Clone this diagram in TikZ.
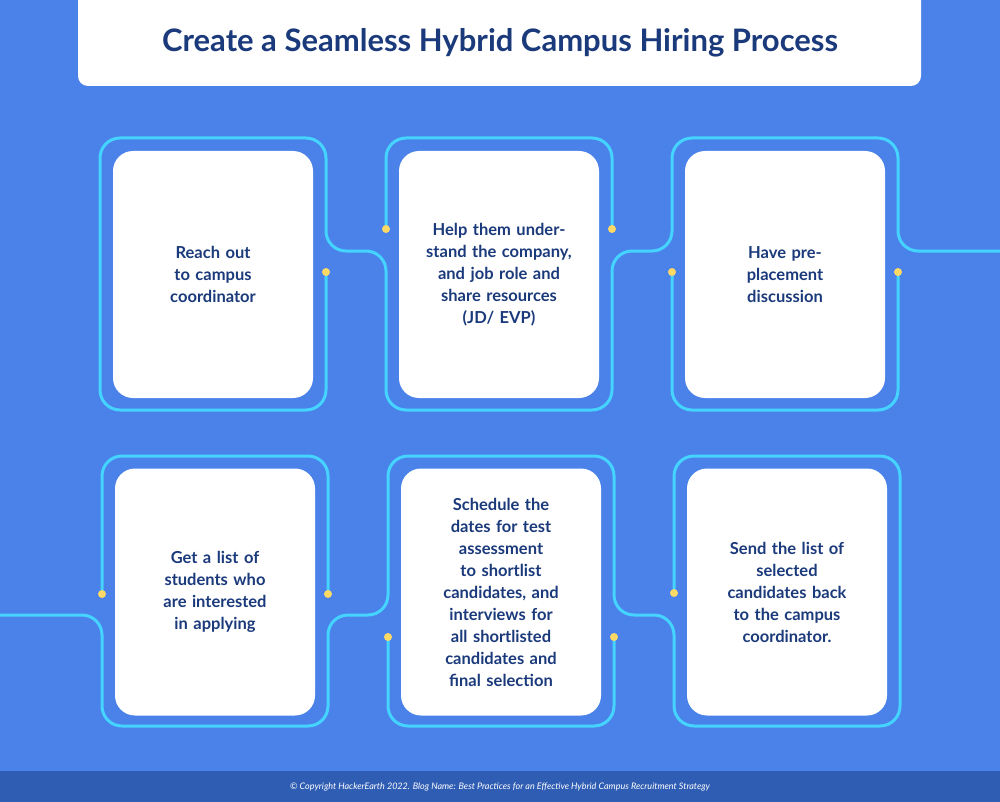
\documentclass[tikz,border=0pt]{standalone}
\usepackage{fontspec}
\setmainfont{Lato}
\usetikzlibrary{positioning}
\definecolor{bgblue}{HTML}{4A82EA}
\definecolor{footblue}{HTML}{2F5DB3}
\definecolor{navy}{HTML}{1B3A7B}
\definecolor{wire}{HTML}{45D3FF}
\definecolor{dotyellow}{HTML}{FFD966}
\tikzset{
  card/.style={fill=white,rounded corners=20pt,minimum width=200pt,minimum height=247pt,
    text width=150pt,align=center,text=navy,font=\fontsize{16.5}{22}\selectfont\bfseries},
  wireline/.style={draw=wire,line width=3pt,rounded corners=20pt},
  knob/.style={fill=dotyellow,circle,inner sep=0pt,minimum size=8pt},
}
\begin{document}
\begin{tikzpicture}[x=1pt,y=-1pt]
\useasboundingbox (0,0) rectangle (1000,802);
\fill[bgblue] (0,0) rectangle (1000,802);
\fill[footblue] (0,771) rectangle (1000,802);
\fill[white,rounded corners=10pt] (78,-20) rectangle (921,86);
\node[text=navy,font=\fontsize{31}{36}\selectfont\bfseries] (title) at (500,43) {Create a Seamless Hybrid Campus Hiring Process};
\node[text=white,font=\fontsize{9}{11}\selectfont\itshape] (foot) at (500,787) {© Copyright HackerEarth 2022. Blog Name: Best Practices for an Effective Hybrid Campus Recruitment Strategy};

% top row wires
\draw[wireline] (326,272) -- (326,410) -- (100,410) -- (100,138) -- (326,138) -- (326,251) -- (386,251) -- (386,410) -- (612,410) -- (612,251) -- (672,251) -- (672,138) -- (898,138) -- (898,251) -- (1020,251);
\draw[wireline] (386,229) -- (386,138) -- (612,138) -- (612,229);
\draw[wireline] (672,272) -- (672,410) -- (898,410) -- (898,272);
% bottom row wires
\draw[wireline] (-20,615) -- (102,615) -- (102,726) -- (328,726) -- (328,615) -- (388,615) -- (388,456) -- (614,456) -- (614,615) -- (674,615) -- (674,726) -- (900,726) -- (900,456) -- (674,456) -- (674,593);
\draw[wireline] (102,594) -- (102,456) -- (328,456) -- (328,594);
\draw[wireline] (388,637) -- (388,726) -- (614,726) -- (614,637);

% cards
\node[card] (c1) at (213,274.5) {Reach out\\to campus\\coordinator};
\node[card] (c2) at (499,274.5) {Help them understand the company, and job role and share resources\\(JD/ EVP)};
\node[card] (c3) at (785,274.5) {Have pre-\\placement\\discussion};
\node[card] (c4) at (215,592) {Get a list of\\students who\\are interested\\in applying};
\node[card] (c5) at (501,592) {Schedule the\\dates for test\\assessment\\to shortlist\\candidates, and\\interviews for\\all shortlisted\\candidates and\\final selection};
\node[card] (c6) at (787,592) {Send the list of\\selected\\candidates back\\to the campus\\coordinator.};

% dots
\foreach \px/\py [count=\i] in {326/272,386/229,612/229,672/272,898/272,102/594,328/594,388/637,614/637,674/593}
  \node[knob] (k\i) at (\px,\py) {};
\end{tikzpicture}
\end{document}
